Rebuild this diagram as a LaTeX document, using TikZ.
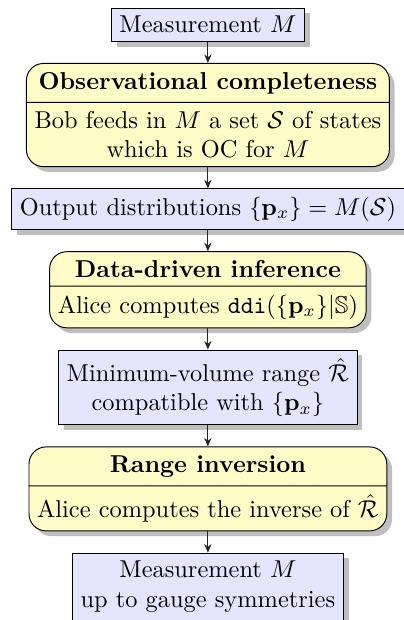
\documentclass[tikz,border=0pt]{standalone}
\usepackage{amsmath,amssymb}
\usetikzlibrary{shapes.multipart,shadows,positioning,arrows.meta}
\tikzset{
  blockbox/.style={draw, fill=blue!10, drop shadow, align=center, inner sep=3.33pt},
  stagebox/.style={draw, fill=yellow!22, drop shadow, rounded corners=7pt,
    rectangle split, rectangle split parts=2, align=center, inner sep=3.33pt},
  flow/.style={-{Stealth[length=3.5pt,width=3pt]}, black!85},
}
\begin{document}
\begin{tikzpicture}
\useasboundingbox (0,0) rectangle (165.2pt,-254.1pt);
\node[blockbox, anchor=north] (m) at (85.2pt,-3.1pt) {Measurement $M$};
\node[stagebox, below=8.7pt of m] (oc) {\textbf{Observational completeness}
  \nodepart{two} Bob feeds in $M$ a set $\mathcal{S}$ of states\\ which is OC for $M$};
\node[blockbox, below=8.7pt of oc] (out) {Output distributions $\{\mathbf{p}_x\} = M(\mathcal{S})$};
\node[stagebox, below=8.7pt of out] (ddi) {\textbf{Data-driven inference}
  \nodepart{two} Alice computes $\mathtt{ddi}(\{\mathbf{p}_x\}|\mathbb{S})$};
\node[blockbox, below=8.7pt of ddi] (mv) {Minimum-volume range $\hat{\mathcal{R}}$\\ compatible with $\{\mathbf{p}_x\}$};
\node[stagebox, below=8.7pt of mv] (ri) {\textbf{Range inversion}
  \nodepart{two} Alice computes the inverse of $\hat{\mathcal{R}}$};
\node[blockbox, below=8.7pt of ri] (res) {Measurement $M$\\ up to gauge symmetries};
\draw[flow] (m.south) -- (oc.north);
\draw[flow] (oc.south) -- (out.north);
\draw[flow] (out.south) -- (ddi.north);
\draw[flow] (ddi.south) -- (mv.north);
\draw[flow] (mv.south) -- (ri.north);
\draw[flow] (ri.south) -- (res.north);
\end{tikzpicture}
\end{document}
